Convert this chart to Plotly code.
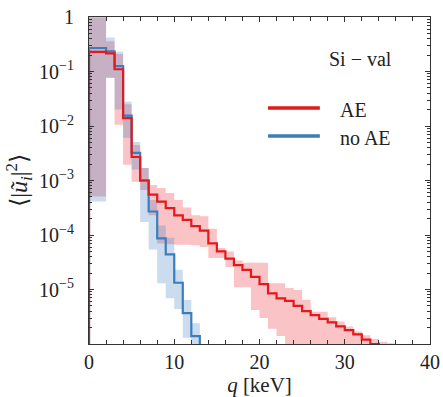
import plotly.graph_objects as go

# ---- data (bin edges in keV, 1 keV bins) ----
edges = list(range(0, 37))

# AE (red): central values per bin (bins 0..33)
ae_val = [0.23, 0.23, 0.215, 0.11, 0.014, 0.0027, 1.0e-3, 5.5e-4, 4.1e-4, 3.1e-4,
          2.3e-4, 1.9e-4, 1.45e-4, 1.2e-4, 7.0e-5, 5.0e-5, 3.7e-5, 2.8e-5, 2.3e-5, 1.7e-5,
          1.25e-5, 8.5e-6, 6.9e-6, 6.2e-6, 5.0e-6, 4.0e-6, 3.4e-6, 2.9e-6, 2.5e-6, 2.1e-6,
          1.8e-6, 1.5e-6, 1.2e-6, 1.0e-6]
# AE band (bins 0..35)
ae_lo = [5.1e-4, 5.1e-4, 0.077, 0.0105, 0.00195, 9.5e-4, 6.7e-4, 2.3e-4, 7.0e-5, 6.8e-5,
         6.6e-5, 6.6e-5, 6.5e-5, 6.0e-5, 3.8e-5, 3.8e-5, 2.6e-5, 1.1e-5, 1.1e-5, 4.2e-6,
         3.0e-6, 1.9e-6, 1.4e-6, 1e-7, 1e-7, 1e-7, 1e-7, 1e-7, 1e-7, 1e-7,
         1e-7, 1e-7, 1e-7, 1e-7, 1e-7, 1e-7]
ae_hi = [0.98, 0.98, 0.36, 0.21, 0.025, 4.5e-3, 1.7e-3, 8.3e-4, 7.3e-4, 5.9e-4,
         4.4e-4, 3.2e-4, 2.3e-4, 2.2e-4, 1.3e-4, 5.8e-5, 5.0e-5, 3.4e-5, 3.1e-5, 3.1e-5,
         3.1e-5, 1.3e-5, 1.3e-5, 1.07e-5, 9.8e-6, 6.5e-6, 3.9e-6, 3.9e-6, 3.1e-6, 2.6e-6,
         2.1e-6, 1.7e-6, 1.45e-6, 1.24e-6, 1.1e-6, 1.03e-6]

# no AE (blue): central values per bin (bins 0..12)
noae_val = [0.27, 0.27, 0.235, 0.125, 0.0155, 0.0032, 1.0e-3, 2.7e-4, 8.7e-5, 4.4e-5,
            1.33e-5, 3.7e-6, 1.4e-6]
noae_lo = [4.1e-4, 4.1e-4, 0.077, 0.02, 0.0061, 1.6e-3, 1.74e-4, 5.4e-5, 1.3e-5, 6.9e-6,
           4.4e-6, 1.3e-6, 1e-7]
noae_hi = [1.07, 1.07, 0.42, 0.23, 0.028, 5.1e-3, 1.7e-3, 4.4e-4, 1.5e-4, 8.9e-5,
           2.3e-5, 6.4e-6, 2.4e-6]

y_tickvals = [1, 1e-1, 1e-2, 1e-3, 1e-4, 1e-5]
y_ticktext = ["1", "10<sup>\u22121</sup>", "10<sup>\u22122</sup>", "10<sup>\u22123</sup>",
              "10<sup>\u22124</sup>", "10<sup>\u22125</sup>"]
x_tickvals = [0, 10, 20, 30, 40]

RED = "#e3191c"
BLUE = "#3a7ebd"
FONT = "Liberation Serif"


def band_polygon(lo, hi):
    xs, ys = [], []
    for i, h in enumerate(hi):
        xs += [edges[i], edges[i + 1]]
        ys += [h, h]
    for i in range(len(lo) - 1, -1, -1):
        xs += [edges[i + 1], edges[i]]
        ys += [lo[i], lo[i]]
    xs.append(xs[0]); ys.append(ys[0])
    return xs, ys


def step_line(vals, drop_end=False):
    xs = [edges[0]]
    ys = [1e-7]
    for i, v in enumerate(vals):
        xs += [edges[i], edges[i + 1]]
        ys += [v, v]
    if drop_end:
        xs.append(edges[len(vals)])
        ys.append(1e-7)
    return xs, ys


fig = go.Figure()

bx, by = band_polygon(ae_lo, ae_hi)
fig.add_trace(go.Scatter(x=bx, y=by, fill="toself", mode="none",
                         fillcolor="rgba(236,40,52,0.28)", showlegend=False,
                         hoverinfo="skip"))
bx, by = band_polygon(noae_lo, noae_hi)
fig.add_trace(go.Scatter(x=bx, y=by, fill="toself", mode="none",
                         fillcolor="rgba(58,126,189,0.27)", showlegend=False,
                         hoverinfo="skip"))

lx, ly = step_line(noae_val, drop_end=True)
fig.add_trace(go.Scatter(x=lx, y=ly, mode="lines", line=dict(color=BLUE, width=2.2),
                         name="no AE", showlegend=False))
lx, ly = step_line(ae_val, drop_end=True)
fig.add_trace(go.Scatter(x=lx, y=ly, mode="lines", line=dict(color=RED, width=2.2),
                         name="AE", showlegend=False))

axis_common = dict(showline=True, linecolor="#333333", linewidth=1, mirror="allticks",
                   ticks="inside", tickcolor="#333333", showgrid=False, zeroline=False,
                   automargin=False,
                   tickfont=dict(family=FONT, size=20, color="#222222"))

fig.update_xaxes(range=[0, 40], tickvals=x_tickvals, ticklen=5,
                 minor=dict(dtick=2, ticks="inside", ticklen=4, tickcolor="#333333"),
                 title=dict(text="<i>q</i> [keV]", font=dict(family=FONT, size=21, color="#222222"),
                            standoff=6),
                 **axis_common)
fig.update_yaxes(type="log", range=[-6, 0], tickvals=y_tickvals, ticktext=y_ticktext,
                 ticklen=5, ticklabelstandoff=10,
                 minor=dict(dtick="D1", ticks="inside", ticklen=3, tickcolor="#333333"),
                 title=dict(text="\u27e8|<i>\u0169<sub>i</sub></i>|<sup>2</sup>\u27e9",
                            font=dict(family=FONT, size=24, color="#222222"), standoff=4),
                 **axis_common)

# legend drawn manually
fig.add_shape(type="line", xref="paper", yref="paper", x0=0.525, x1=0.677, y0=0.7217, y1=0.7217,
              line=dict(color=RED, width=3.5))
fig.add_shape(type="line", xref="paper", yref="paper", x0=0.525, x1=0.677, y0=0.636, y1=0.636,
              line=dict(color=BLUE, width=3.5))
fig.add_annotation(x=0.73, y=0.7156, xref="paper", yref="paper", text="AE", showarrow=False,
                   xanchor="left", yanchor="middle", font=dict(family=FONT, size=20, color="#222222"))
fig.add_annotation(x=0.73, y=0.630, xref="paper", yref="paper", text="no AE", showarrow=False,
                   xanchor="left", yanchor="middle", font=dict(family=FONT, size=20, color="#222222"))
fig.add_annotation(x=0.698, y=0.873, xref="paper", yref="paper", text="Si \u2212 val", showarrow=False,
                   xanchor="left", yanchor="middle", font=dict(family=FONT, size=20, color="#222222"))

fig.update_layout(width=443, height=397, margin=dict(l=89, r=13, t=17, b=53),
                  paper_bgcolor="white", plot_bgcolor="white")

fig.write_html("out.html")
